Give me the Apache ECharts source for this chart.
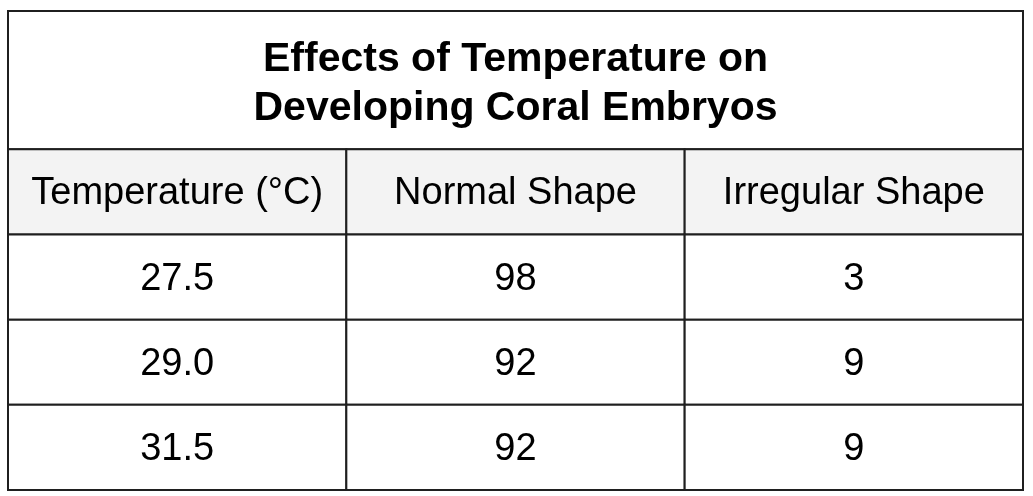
<!DOCTYPE html>
<html>
<head>
<meta charset="utf-8">
<script src="https://cdn.jsdelivr.net/npm/echarts@6/dist/echarts.min.js"></script>
<style>
html,body{margin:0;padding:0;background:#fff;}
#chart{width:1033px;height:496px;}
</style>
</head>
<body>
<div id="chart"></div>
<script>
// ---- data ----
const titleLines = ['Effects of Temperature on', 'Developing Coral Embryos'];
const headers = ['Temperature (°C)', 'Normal Shape', 'Irregular Shape'];
const temperatures = ['27.5', '29.0', '31.5'];
const normalShape = [98, 92, 92];
const irregularShape = [3, 9, 9];

// ---- build table cells (col, row, colSpan, rowSpan) ----
const TITLE_H = 1.624; // title row height in row units
const cells = [];
const texts = [];
const kinds = [];
cells.push([0, -TITLE_H, 3, TITLE_H]); texts.push(titleLines.join('\n')); kinds.push('title');
headers.forEach((h, i) => { cells.push([i, 0, 1, 1]); texts.push(h); kinds.push('header'); });
temperatures.forEach((t, r) => {
  const rowVals = [t, String(normalShape[r]), String(irregularShape[r])];
  rowVals.forEach((v, c) => { cells.push([c, r + 1, 1, 1]); texts.push(v); kinds.push('body'); });
});

const chart = echarts.init(document.getElementById('chart'), null, {renderer: 'canvas'});
chart.setOption({
  animation: false,
  backgroundColor: '#ffffff',
  grid: {left: 8, right: 10, top: 11, bottom: 6},
  xAxis: {type: 'value', min: 0, max: 3, show: false},
  yAxis: {type: 'value', min: -TITLE_H, max: 4, inverse: true, show: false},
  series: [{
    type: 'custom',
    data: cells,
    encode: {x: 0, y: 1},
    renderItem: function (params, api) {
      const c = api.value(0), r = api.value(1), cs = api.value(2), rs = api.value(3);
      const p0 = api.coord([c, r]);
      const p1 = api.coord([c + cs, r + rs]);
      const kind = kinds[params.dataIndex];
      const x = p0[0], y = p0[1], w = p1[0] - p0[0], h = p1[1] - p0[1];
      return {
        type: 'group',
        children: [{
          type: 'rect',
          shape: {x: x, y: y, width: w, height: h},
          style: {fill: kind === 'header' ? '#f3f3f3' : '#ffffff', stroke: '#1f1f1f', lineWidth: 2}
        }, {
          type: 'text',
          style: {
            text: texts[params.dataIndex],
            x: x + w / 2,
            y: y + h / 2 + (kind === 'title' ? 4 : 2),
            align: 'center',
            verticalAlign: 'middle',
            fill: '#000000',
            fontFamily: '"Liberation Sans", Arial, sans-serif',
            fontWeight: kind === 'title' ? 'bold' : 'normal',
            fontSize: kind === 'title' ? 41 : 38,
            lineHeight: 49
          }
        }]
      };
    }
  }]
});
</script>
</body>
</html>
